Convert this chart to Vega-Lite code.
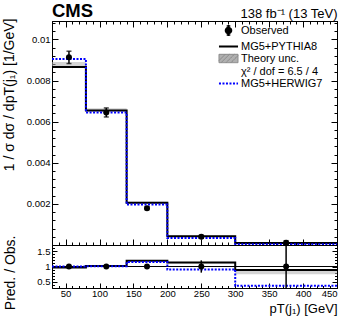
{
  "$schema": "https://vega.github.io/schema/vega-lite/v6.json",
  "background": "white",
  "padding": {"left": 1, "top": 1, "right": 3, "bottom": 3},
  "spacing": 0,
  "bounds": "flush",
  "datasets": {
    "bins": [
      {"bin": 1, "lo": 30, "hi": 80, "x": 55, "obs": 0.00913, "obs_lo": 0.00883, "obs_hi": 0.00943, "py": 0.00866, "py_lo": 0.00862, "py_hi": 0.0089, "hw": 0.00905, "r_py": 0.97, "r_py_lo": 0.95, "r_py_hi": 0.99, "r_hw": 1.0, "r_obs": 1, "ro_lo": 0.967, "ro_hi": 1.033},
      {"bin": 2, "lo": 80, "hi": 140, "x": 110, "obs": 0.00645, "obs_lo": 0.00623, "obs_hi": 0.00667, "py": 0.00655, "py_lo": 0.0065, "py_hi": 0.00665, "hw": 0.00645, "r_py": 1.02, "r_py_lo": 1.0, "r_py_hi": 1.04, "r_hw": 1.01, "r_obs": 1, "ro_lo": 0.966, "ro_hi": 1.034},
      {"bin": 3, "lo": 140, "hi": 200, "x": 170, "obs": 0.00179, "obs_lo": 0.00172, "obs_hi": 0.00186, "py": 0.00205, "py_lo": 0.00201, "py_hi": 0.00211, "hw": 0.00197, "r_py": 1.19, "r_py_lo": 1.16, "r_py_hi": 1.21, "r_hw": 1.15, "r_obs": 1, "ro_lo": 0.95, "ro_hi": 1.05},
      {"bin": 4, "lo": 200, "hi": 300, "x": 250, "obs": 0.0004, "obs_lo": 0.00033, "obs_hi": 0.00047, "py": 0.00043, "py_lo": 0.00041, "py_hi": 0.00046, "hw": 0.00034, "r_py": 1.13, "r_py_lo": 1.1, "r_py_hi": 1.15, "r_hw": 0.9, "r_obs": 1, "ro_lo": 0.8, "ro_hi": 1.2},
      {"bin": 5, "lo": 300, "hi": 450, "x": 375, "obs": 0.00011, "obs_lo": 0.00001, "obs_hi": 0.00021, "py": 0.0001, "py_lo": 0.00009, "py_hi": 0.00011, "hw": 0.00004, "r_py": 0.89, "r_py_lo": 0.75, "r_py_hi": 0.89, "r_hw": 0.37, "r_obs": 1, "ro_lo": 0.0, "ro_hi": 2.0}
    ]
  },
  "vconcat": [
    {
      "width": 285,
      "height": 224,
      "title": {"text": "CMS", "anchor": "start", "frame": "group", "font": "Liberation Sans", "fontSize": 18.5, "fontWeight": "bold", "color": "black", "offset": 0, "dy": 13},
      "data": {"name": "bins"},
      "layer": [
        {
          "mark": {"type": "rect", "color": "#b0b0b0", "opacity": 0.55},
          "encoding": {
            "x": {"field": "lo", "type": "quantitative", "scale": {"domain": [30, 450], "nice": false, "zero": false},
              "axis": {"orient": "bottom", "values": [40,50,60,70,80,90,100,110,120,130,140,150,160,170,180,190,200,210,220,230,240,250,260,270,280,290,300,310,320,330,340,350,360,370,380,390,400,410,420,430,440,450], "labels": false, "title": null,
                "tickSize": {"condition": {"test": "datum.value % 50 === 0", "value": -6}, "value": -3}}},
            "x2": {"field": "hi"},
            "y": {"field": "py_lo", "type": "quantitative", "scale": {"domain": [0, 0.0109], "nice": false, "zero": false},
              "axis": {"orient": "left", "values": [0.0004,0.0008,0.0012,0.0016,0.002,0.0024,0.0028,0.0032,0.0036,0.004,0.0044,0.0048,0.0052,0.0056,0.006,0.0064,0.0068,0.0072,0.0076,0.008,0.0084,0.0088,0.0092,0.0096,0.01,0.0104,0.0108],
                "labelExpr": "datum.value === 0.01 ? '0.01' : (indexof([0.002,0.004,0.006,0.008], datum.value) >= 0 ? format(datum.value, '.3f') : '')",
                "tickSize": {"condition": {"test": "indexof([0.002,0.004,0.006,0.008,0.01], datum.value) >= 0", "value": -6}, "value": -3},
                "labelPadding": 8,
                "title": "1 / σ  dσ / dpT(j₁) [1/GeV]", "titleFontSize": 14, "titleAngle": -90, "titleAlign": "right", "titleBaseline": "alphabetic", "titleX": -39, "titleY": -3}},
            "y2": {"field": "py_hi"}
          }
        },
        {
          "transform": [{"fold": ["lo", "hi"], "as": ["edge", "xv"]}],
          "mark": {"type": "line", "strokeWidth": 2, "color": "black"},
          "encoding": {
            "x": {"field": "xv", "type": "quantitative", "scale": {"domain": [30, 450], "nice": false, "zero": false},
              "axis": {"orient": "top", "values": [40,50,60,70,80,90,100,110,120,130,140,150,160,170,180,190,200,210,220,230,240,250,260,270,280,290,300,310,320,330,340,350,360,370,380,390,400,410,420,430,440,450], "labels": false,
                "tickSize": {"condition": {"test": "datum.value % 50 === 0", "value": -6}, "value": -3},
                "title": "138 fb⁻¹ (13 TeV)", "titleFontSize": 13, "titleAlign": "right", "titleBaseline": "alphabetic", "titleX": 285, "titleY": -4, "titleAngle": 0}},
            "y": {"field": "py", "type": "quantitative", "scale": {"domain": [0, 0.0109], "nice": false, "zero": false},
              "axis": {"orient": "right", "values": [0.0004,0.0008,0.0012,0.0016,0.002,0.0024,0.0028,0.0032,0.0036,0.004,0.0044,0.0048,0.0052,0.0056,0.006,0.0064,0.0068,0.0072,0.0076,0.008,0.0084,0.0088,0.0092,0.0096,0.01,0.0104,0.0108], "labels": false, "title": null,
                "tickSize": {"condition": {"test": "indexof([0.002,0.004,0.006,0.008,0.01], datum.value) >= 0", "value": -6}, "value": -3}}},
            "order": [{"field": "bin", "type": "quantitative", "sort": "ascending"}, {"field": "edge", "type": "nominal", "sort": "descending"}]
          }
        },
        {
          "transform": [{"fold": ["lo", "hi"], "as": ["edge", "xv"]}],
          "mark": {"type": "line", "strokeWidth": 2, "strokeDash": [2, 1.5], "color": "blue"},
          "encoding": {
            "x": {"field": "xv", "type": "quantitative", "scale": {"domain": [30, 450], "nice": false, "zero": false}, "axis": null},
            "y": {"field": "hw", "type": "quantitative", "scale": {"domain": [0, 0.0109], "nice": false, "zero": false}, "axis": null},
            "order": [{"field": "bin", "type": "quantitative", "sort": "ascending"}, {"field": "edge", "type": "nominal", "sort": "descending"}]
          }
        },
        {
          "mark": {"type": "errorbar", "ticks": {"size": 5}, "thickness": 1.5, "color": "black"},
          "encoding": {
            "x": {"field": "x", "type": "quantitative", "scale": {"domain": [30, 450], "nice": false, "zero": false}, "axis": null},
            "y": {"field": "obs_lo", "type": "quantitative", "scale": {"domain": [0, 0.0109], "nice": false, "zero": false}, "axis": null},
            "y2": {"field": "obs_hi"}
          }
        },
        {
          "mark": {"type": "point", "filled": true, "size": 36, "opacity": 1},
          "encoding": {
            "x": {"field": "x", "type": "quantitative", "scale": {"domain": [30, 450], "nice": false, "zero": false}, "axis": null},
            "y": {"field": "obs", "type": "quantitative", "scale": {"domain": [0, 0.0109], "nice": false, "zero": false}, "axis": null},
            "color": {"datum": "Observed", "scale": {"domain": ["Observed", "MG5+PYTHIA8", "Theory unc.", "χ² / dof = 6.5 / 4", "MG5+HERWIG7"], "range": ["black", "black", "#b0b0b0", "white", "blue"]},
              "legend": {"orient": "none", "legendX": 171, "legendY": 4, "title": null, "padding": 0, "symbolSize": 196, "labelFont": "Liberation Sans", "labelFontSize": 11, "labelColor": "black", "labelOffset": 7, "rowPadding": 0, "symbolOpacity": 1,
                "encode": {"symbols": {"update": {
                  "shape": {"signal": "datum.value === 'Observed' ? 'M-0.43,0A0.43,0.43 0 1,0 0.43,0A0.43,0.43 0 1,0 -0.43,0ZM0,-0.8L0,0.8M-0.26,-0.65L0.26,-0.65M-0.26,0.65L0.26,0.65' : (datum.value === 'Theory unc.' ? 'M-1.36,-0.6L1.36,-0.6L1.36,0.6L-1.36,0.6ZM-1.06,0.6L0.14,-0.6M-0.36,0.6L0.84,-0.6M0.34,0.6L1.36,-0.42M-1.36,0.3L-0.46,-0.6' : 'M-1.36,0L1.36,0')"},
                  "fill": {"signal": "datum.value === 'Observed' ? 'black' : (datum.value === 'Theory unc.' ? 'white' : 'transparent')"},
                  "stroke": {"signal": "datum.value === 'MG5+HERWIG7' ? 'blue' : (datum.value === 'Theory unc.' ? '#888888' : (datum.value === 'Observed' || datum.value === 'MG5+PYTHIA8' ? 'black' : 'transparent'))"},
                  "strokeWidth": {"signal": "datum.value === 'Theory unc.' ? 1 : (datum.value === 'Observed' ? 1.5 : 2)"},
                  "strokeDash": {"signal": "datum.value === 'MG5+HERWIG7' ? [2, 1.5] : [1, 0]"},
                  "opacity": {"value": 1}
                }}}}}
          }
        }
      ],
      "resolve": {"axis": {"x": "independent", "y": "independent"}}
    },
    {
      "width": 285,
      "height": 43,
      "data": {"name": "bins"},
      "layer": [
        {
          "mark": {"type": "rect", "color": "#b0b0b0", "opacity": 0.55},
          "encoding": {
            "x": {"field": "lo", "type": "quantitative", "scale": {"domain": [30, 450], "nice": false, "zero": false},
              "axis": {"orient": "bottom", "values": [40,50,60,70,80,90,100,110,120,130,140,150,160,170,180,190,200,210,220,230,240,250,260,270,280,290,300,310,320,330,340,350,360,370,380,390,400,410,420,430,440,450],
                "labelExpr": "datum.value % 50 === 0 ? datum.label : ''", "labelPadding": 5, "labelFlush": true,
                "tickSize": {"condition": {"test": "datum.value % 50 === 0", "value": -5}, "value": -2.5},
                "title": "pT(j₁) [GeV]", "titleFontSize": 13, "titleAlign": "right", "titleBaseline": "alphabetic", "titleX": 285, "titleY": 24.4}},
            "x2": {"field": "hi"},
            "y": {"field": "r_py_lo", "type": "quantitative", "scale": {"domain": [0.3, 1.7], "nice": false, "zero": false},
              "axis": {"orient": "left", "values": [0.4,0.5,0.6,0.7,0.8,0.9,1,1.1,1.2,1.3,1.4,1.5,1.6],
                "labelExpr": "datum.value === 0.5 ? '0.5' : (datum.value === 1 ? '1' : (datum.value === 1.5 ? '1.5' : ''))",
                "tickSize": {"condition": {"test": "datum.value === 0.5 || datum.value === 1 || datum.value === 1.5", "value": -5}, "value": -2.5},
                "labelPadding": 7,
                "title": "Pred. / Obs.", "titleFontSize": 14, "titleAngle": -90, "titleAlign": "right", "titleBaseline": "alphabetic", "titleX": -38, "titleY": -10}},
            "y2": {"field": "r_py_hi"}
          }
        },
        {
          "data": {"values": [{"ref": 1}]},
          "mark": {"type": "rule", "color": "black", "strokeWidth": 1},
          "encoding": {
            "y": {"field": "ref", "type": "quantitative", "scale": {"domain": [0.3, 1.7], "nice": false, "zero": false}, "axis": null}
          }
        },
        {
          "transform": [{"fold": ["lo", "hi"], "as": ["edge", "xv"]}],
          "mark": {"type": "line", "strokeWidth": 2, "color": "black"},
          "encoding": {
            "x": {"field": "xv", "type": "quantitative", "scale": {"domain": [30, 450], "nice": false, "zero": false}, "axis": null},
            "y": {"field": "r_py", "type": "quantitative", "scale": {"domain": [0.3, 1.7], "nice": false, "zero": false},
              "axis": {"orient": "right", "values": [0.4,0.5,0.6,0.7,0.8,0.9,1,1.1,1.2,1.3,1.4,1.5,1.6], "labels": false, "title": null,
                "tickSize": {"condition": {"test": "datum.value === 0.5 || datum.value === 1 || datum.value === 1.5", "value": -5}, "value": -2.5}}},
            "order": [{"field": "bin", "type": "quantitative", "sort": "ascending"}, {"field": "edge", "type": "nominal", "sort": "descending"}]
          }
        },
        {
          "transform": [{"fold": ["lo", "hi"], "as": ["edge", "xv"]}],
          "mark": {"type": "line", "strokeWidth": 2, "color": "blue", "strokeDash": [2, 1.5]},
          "encoding": {
            "x": {"field": "xv", "type": "quantitative", "scale": {"domain": [30, 450], "nice": false, "zero": false}, "axis": null},
            "y": {"field": "r_hw", "type": "quantitative", "scale": {"domain": [0.3, 1.7], "nice": false, "zero": false}, "axis": null},
            "order": [{"field": "bin", "type": "quantitative", "sort": "ascending"}, {"field": "edge", "type": "nominal", "sort": "descending"}]
          }
        },
        {
          "mark": {"type": "rule", "color": "black", "strokeWidth": 1.5, "clip": true},
          "encoding": {
            "x": {"field": "x", "type": "quantitative", "scale": {"domain": [30, 450], "nice": false, "zero": false}, "axis": null},
            "y": {"field": "ro_lo", "type": "quantitative", "scale": {"domain": [0.3, 1.7], "nice": false, "zero": false}, "axis": null},
            "y2": {"field": "ro_hi"}
          }
        },
        {
          "mark": {"type": "point", "filled": true, "size": 36, "opacity": 1, "color": "black"},
          "encoding": {
            "x": {"field": "x", "type": "quantitative", "scale": {"domain": [30, 450], "nice": false, "zero": false}, "axis": null},
            "y": {"field": "r_obs", "type": "quantitative", "scale": {"domain": [0.3, 1.7], "nice": false, "zero": false}, "axis": null}
          }
        }
      ],
      "resolve": {"axis": {"x": "independent", "y": "independent"}}
    }
  ],
  "config": {
    "font": "Liberation Sans",
    "view": {"stroke": "black", "strokeWidth": 1},
    "axis": {"grid": false, "domainColor": "black", "domainWidth": 1, "tickColor": "black", "tickWidth": 1, "labelColor": "black", "titleColor": "black", "labelFont": "Liberation Sans", "titleFont": "Liberation Sans", "labelFontSize": 9.5, "titleFontWeight": "normal", "labelOverlap": false}
  }
}
